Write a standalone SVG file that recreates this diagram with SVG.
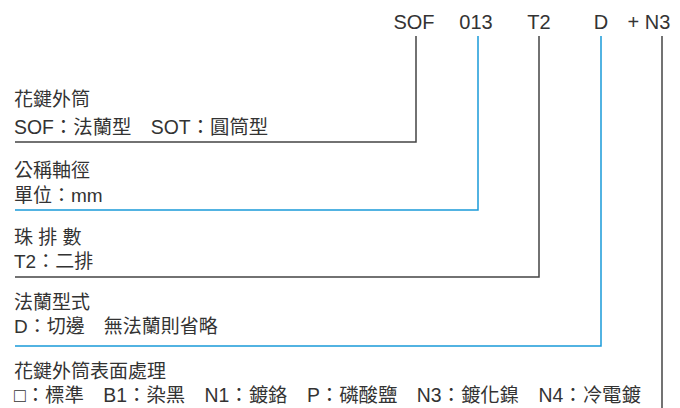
<svg xmlns="http://www.w3.org/2000/svg" width="680" height="408" viewBox="0 0 680 408">
<style>
text{font-family:"Liberation Sans","Noto Sans CJK TC",sans-serif;font-size:19px;fill:#333}
.code{font-size:20px;text-anchor:middle}
.wide{font-size:19.4px}
.dk{stroke:#444;stroke-width:1.5;fill:none}
.bl{stroke:#1a9ad9;stroke-width:1.5;fill:none}
</style>
<rect width="680" height="408" fill="#fff"/>
<g id="code">
<text class="code" x="414" y="29">SOF</text>
<text class="code" x="476" y="29">013</text>
<text class="code" x="539" y="29">T2</text>
<text class="code" x="601" y="29">D</text>
<text class="code" x="649" y="29">+ N3</text>
</g>
<g id="connectors">
<polyline class="dk" points="416,36 416,142 15,142"/>
<polyline class="bl" points="478,36 478,210 15,210"/>
<polyline class="dk" points="539,36 539,277 15,277"/>
<polyline class="bl" points="601,36 601,346 15,346"/>
<polyline class="dk" points="662,36 662,408"/>
</g>
<g id="sof">
<text x="14" y="106">花鍵外筒</text>
<text class="wide" x="14" y="134" xml:space="preserve">SOF：法蘭型　SOT：圓筒型</text>
</g>
<g id="d013">
<text x="14" y="177">公稱軸徑</text>
<text x="14" y="202">單位：mm</text>
</g>
<g id="t2">
<text x="14" y="244">珠 排 數</text>
<text x="14" y="268">T2：二排</text>
</g>
<g id="d">
<text x="14" y="309">法蘭型式</text>
<text x="14" y="333" xml:space="preserve">D：切邊　無法蘭則省略</text>
</g>
<g id="n3">
<text x="14" y="378">花鍵外筒表面處理</text>
<text class="wide" x="14" y="402" xml:space="preserve">□：標準　B1：染黑　N1：鍍鉻　P：磷酸鹽　N3：鍍化鎳　N4：冷電鍍</text>
</g>
</svg>
